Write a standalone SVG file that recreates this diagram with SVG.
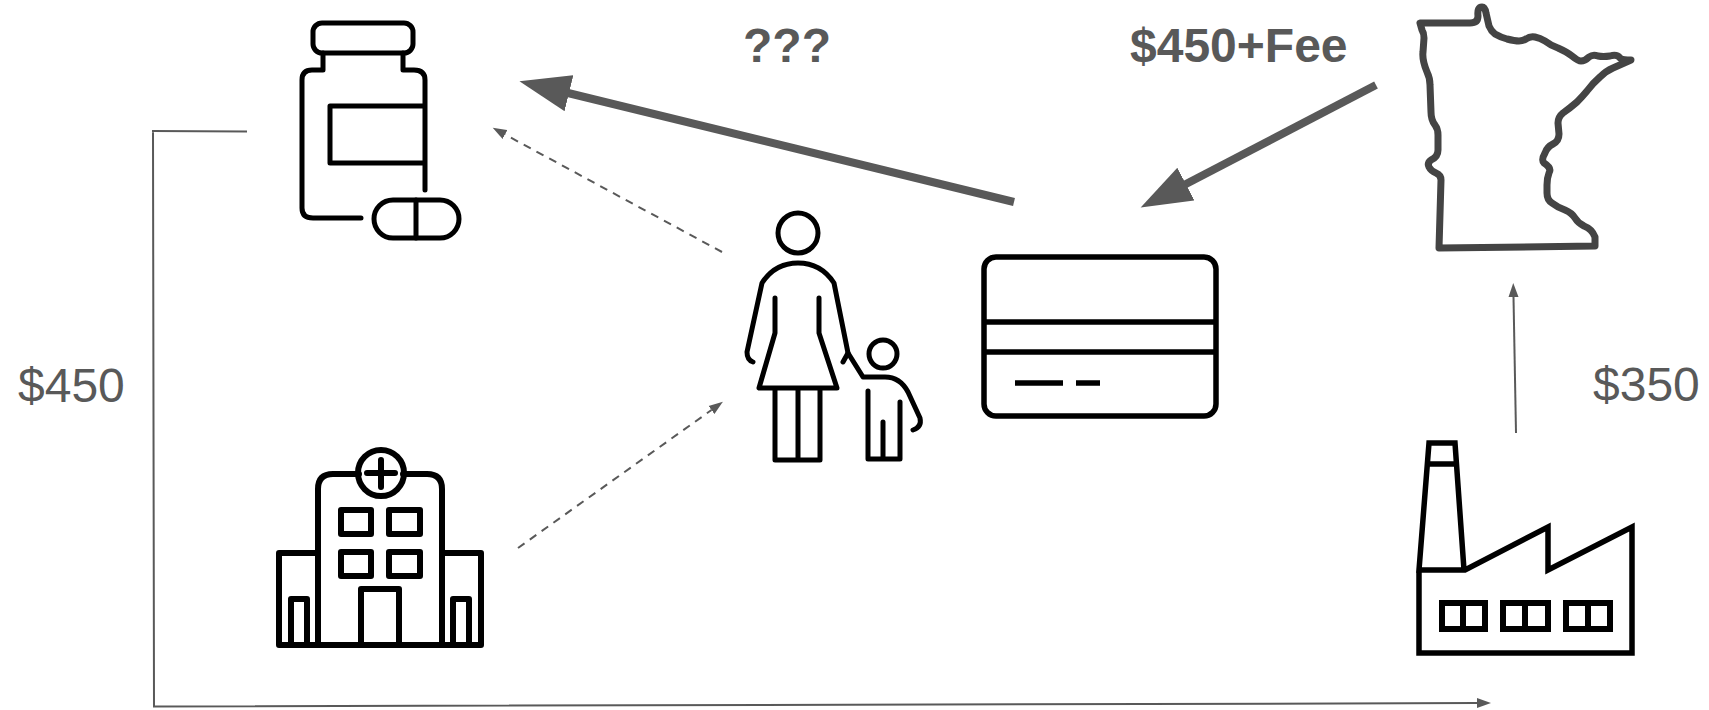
<svg xmlns="http://www.w3.org/2000/svg" width="1709" height="710" viewBox="0 0 1709 710">
<style>
.ic{fill:none;stroke:#000;stroke-width:5;stroke-linejoin:round;stroke-linecap:round}
.ho{fill:none;stroke:#000;stroke-width:6;stroke-linejoin:round;stroke-linecap:round}
.sq{fill:none;stroke:#000;stroke-width:5.5;stroke-linejoin:miter;stroke-linecap:butt}
.mn{fill:none;stroke:#444;stroke-width:7;stroke-linejoin:round;stroke-linecap:round}
.bold{stroke:#595959;stroke-width:8;fill:none}
.thin{stroke:#595959;stroke-width:2;fill:none}
.dash{stroke:#595959;stroke-width:2;fill:none;stroke-dasharray:8 6.5}
text{font-family:"Liberation Sans",Arial,sans-serif;fill:#595959;font-size:48px}
.b{font-weight:700}
</style>
<defs>
<marker id="big" markerUnits="userSpaceOnUse" markerWidth="52" markerHeight="38" viewBox="0 -19 52 38" refX="1" refY="0" orient="auto"><path d="M0-18.500L51 0L0 18.500z" fill="#595959"/></marker>
<marker id="small" markerUnits="userSpaceOnUse" markerWidth="15" markerHeight="11" viewBox="0 -5.500 15 11" refX="0" refY="0" orient="auto"><path d="M0-5L14 0L0 5z" fill="#595959"/></marker>
</defs>
<g id="connectors">
<line class="bold" x1="1014" y1="202" x2="568" y2="93" marker-end="url(#big)"/>
<line class="bold" x1="1376" y1="85" x2="1185" y2="184.500" marker-end="url(#big)"/>
<line class="dash" x1="722" y1="252" x2="505" y2="134.500" marker-end="url(#small)"/>
<line class="dash" x1="518" y1="548" x2="711.500" y2="410" marker-end="url(#small)"/>
<line class="thin" x1="1516" y1="433" x2="1513.500" y2="297" marker-end="url(#small)"/>
<path class="thin" d="M247 131.500L152 131M153 132L154 706.500L1477 703.100" marker-end="url(#small)"/>
</g>
<g id="pill-bottle">
<rect class="ic" x="313" y="23" width="100" height="30" rx="9"/>
<path class="ic" d="M323 53V70H312Q302 70 302 80V208Q302 218 313 218H361M403 53V70H414Q425 70 425 80V190M425 106H330V163H425"/>
<rect class="ic" x="374" y="200" width="85" height="38" rx="19"/>
<path class="ic" d="M416 200V238"/>
</g>
<g id="hospital">
<path class="ho" d="M318 645V489Q318 474 333 474H359M403 474H427Q442 474 442 489V645M318 553H279V645H481V553H442"/>
<circle class="ho" cx="381" cy="473" r="23"/>
<path class="ho" d="M367 473H395M381 460V487"/>
<rect class="ho" x="341" y="510" width="30" height="24"/>
<rect class="ho" x="389" y="510" width="31" height="24"/>
<rect class="ho" x="341" y="552" width="30" height="24"/>
<rect class="ho" x="389" y="552" width="31" height="24"/>
<path class="ho" d="M361 645V589H399V645M291 645V599H307V645M453 645V599H469V645"/>
</g>
<g id="parent-child">
<circle class="ic" cx="798" cy="233" r="20"/>
<path class="ic" d="M753 362Q747 360 747 352L762 283Q775 263 798 263Q821 263 834 283L848 353L843 362"/>
<path class="ic" d="M775 298V333L759 388H837L819 333V298M775 388V460H820V388M798 388V460"/>
<path class="ic" d="M848 353L863 377H885Q900 377 908 392L920 418Q922 427 913 430"/>
<circle class="ic" cx="883" cy="354" r="14"/>
<path class="ic" d="M868 391V459H900V402M883 422V459"/>
</g>
<g id="credit-card">
<rect class="sq" x="984" y="257" width="232" height="159" rx="12"/>
<path class="sq" d="M984 322H1216M984 352H1216M1015 383H1063M1076 383H1100"/>
</g>
<g id="minnesota">
<path class="mn" d="M1420 23L1470 23Q1478 23 1478 16Q1477 7 1482 7Q1485 7 1486 13L1489 26Q1491 31 1495 34Q1500 37 1507 39Q1515 41 1519 41Q1523 41 1526 39Q1530 36 1535 37Q1540 38 1545 41Q1550 45 1558 48Q1567 52 1572 56Q1578 61 1581 61Q1585 61 1589 57Q1593 54 1598 56Q1603 57 1610 56Q1617 54 1620 58Q1622 60 1631 60L1613 68Q1606 71 1600 77Q1593 83 1587 91Q1582 97 1577 102Q1570 108 1563 113Q1558 117 1558 123L1559 134Q1559 141 1553 144Q1547 147 1545 153Q1541 160 1544 163Q1552 168 1549 173Q1547 178 1547 185V193Q1547 200 1552 203Q1557 207 1565 210Q1572 213 1575 218Q1578 223 1584 226Q1592 229 1595 237V246L1439 248L1441 180Q1441 175 1436 173Q1431 171 1429 167Q1427 163 1431 160Q1438 157 1438 150V135Q1438 129 1435 125Q1431 120 1431 112L1430 85Q1430 78 1427 72Q1422 60 1423 52L1424 38Q1424 33 1422 30Z"/>
</g>
<g id="factory">
<path class="sq" d="M1419 570V653H1632V527L1548 570V527L1465 570H1419L1429 443H1455L1464 570M1426 464H1458"/>
<path class="sq" style="stroke-width:6" d="M1442 603H1485V629H1442ZM1463 603V629M1503 603H1548V629H1503ZM1525 603V629M1566 603H1610V629H1566ZM1588 603V629"/>
</g>
<g id="labels">
<text class="b" x="743" y="62">???</text>
<text class="b" x="1130" y="62">$450+Fee</text>
<text x="18" y="402">$450</text>
<text x="1593" y="401">$350</text>
</g>
</svg>
